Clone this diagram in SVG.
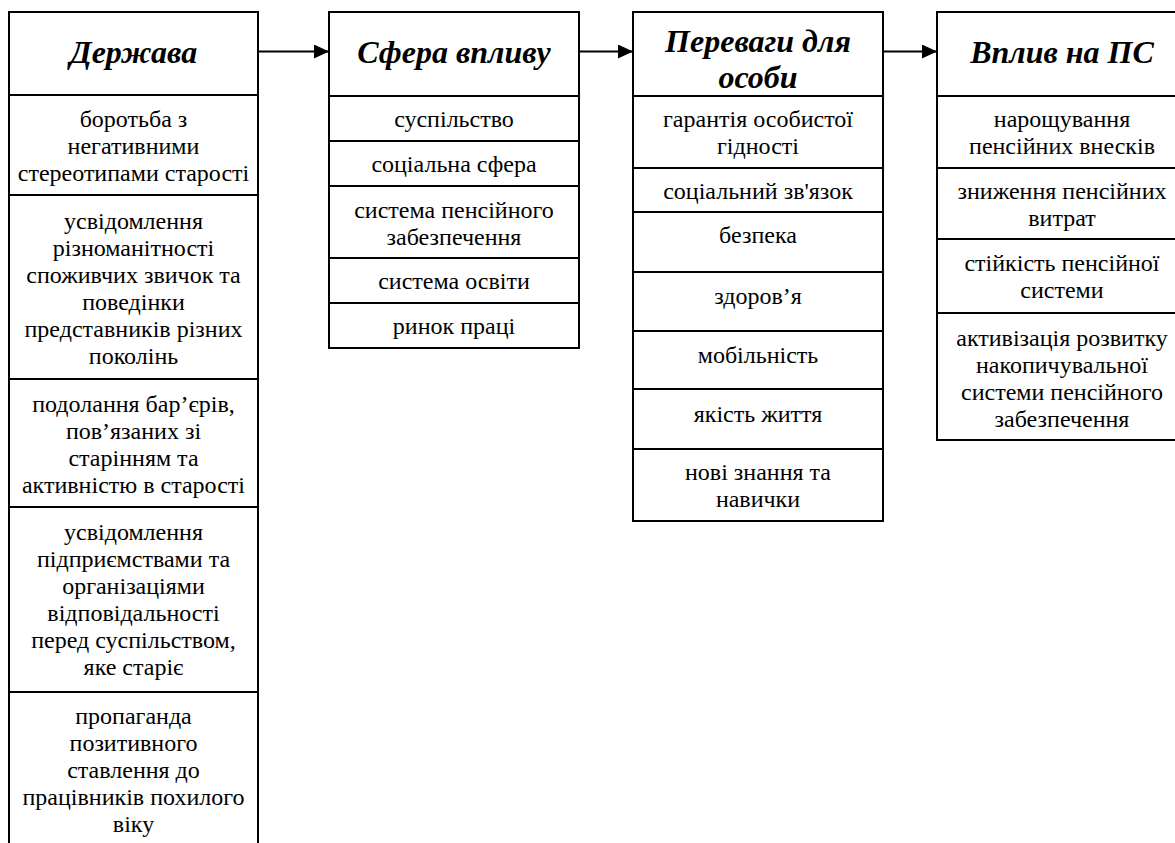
<svg xmlns="http://www.w3.org/2000/svg" width="1175" height="843" viewBox="0 0 1175 843">
<defs>
<style>
.box{fill:#fff;stroke:#000;stroke-width:2}
.div{stroke:#000;stroke-width:2}
.h{font-family:"Liberation Serif","Times New Roman",serif;font-size:32px;font-weight:bold;font-style:italic;text-anchor:middle;fill:#000}
.t{font-family:"Liberation Serif","Times New Roman",serif;font-size:24px;text-anchor:middle;fill:#000}
.c{stroke:#000;stroke-width:2;fill:none}
</style>
<marker id="ah" markerUnits="userSpaceOnUse" markerWidth="16" markerHeight="14" refX="15" refY="7" orient="auto">
<path d="M0,0 L15,7 L0,14 z" fill="#000"/>
</marker>
</defs>
<rect width="1175" height="843" fill="#fff"/>

<g id="derzhava">
<rect class="box" x="9" y="12" width="249" height="860"/>
<line class="div" x1="9" y1="95" x2="258" y2="95"/>
<line class="div" x1="9" y1="195" x2="258" y2="195"/>
<line class="div" x1="9" y1="379" x2="258" y2="379"/>
<line class="div" x1="9" y1="507" x2="258" y2="507"/>
<line class="div" x1="9" y1="692" x2="258" y2="692"/>
<text class="h" x="133.5" y="63">Держава</text>
<text class="t" x="133.5" y="127">боротьба з</text>
<text class="t" x="133.5" y="154">негативними</text>
<text class="t" x="133.5" y="181">стереотипами старості</text>
<text class="t" x="133.5" y="229">усвідомлення</text>
<text class="t" x="133.5" y="256">різноманітності</text>
<text class="t" x="133.5" y="283">споживчих звичок та</text>
<text class="t" x="133.5" y="310">поведінки</text>
<text class="t" x="133.5" y="337">представників різних</text>
<text class="t" x="133.5" y="364">поколінь</text>
<text class="t" x="133.5" y="412">подолання бар’єрів,</text>
<text class="t" x="133.5" y="439">пов’язаних зі</text>
<text class="t" x="133.5" y="466">старінням та</text>
<text class="t" x="133.5" y="493">активністю в старості</text>
<text class="t" x="133.5" y="540">усвідомлення</text>
<text class="t" x="133.5" y="567">підприємствами та</text>
<text class="t" x="133.5" y="594">організаціями</text>
<text class="t" x="133.5" y="621">відповідальності</text>
<text class="t" x="133.5" y="648">перед суспільством,</text>
<text class="t" x="133.5" y="675">яке старіє</text>
<text class="t" x="133.5" y="724">пропаганда</text>
<text class="t" x="133.5" y="751">позитивного</text>
<text class="t" x="133.5" y="778">ставлення до</text>
<text class="t" x="133.5" y="805">працівників похилого</text>
<text class="t" x="133.5" y="832">віку</text>
</g>

<g id="sfera">
<rect class="box" x="329" y="12" width="250" height="336"/>
<line class="div" x1="329" y1="96" x2="579" y2="96"/>
<line class="div" x1="329" y1="141" x2="579" y2="141"/>
<line class="div" x1="329" y1="186" x2="579" y2="186"/>
<line class="div" x1="329" y1="258" x2="579" y2="258"/>
<line class="div" x1="329" y1="303" x2="579" y2="303"/>
<text class="h" x="454" y="63">Сфера впливу</text>
<text class="t" x="454" y="127">суспільство</text>
<text class="t" x="454" y="172">соціальна сфера</text>
<text class="t" x="454" y="218">система пенсійного</text>
<text class="t" x="454" y="245">забезпечення</text>
<text class="t" x="454" y="289">система освіти</text>
<text class="t" x="454" y="334">ринок праці</text>
</g>

<g id="perevagy">
<rect class="box" x="633" y="12" width="250" height="509"/>
<line class="div" x1="633" y1="96" x2="883" y2="96"/>
<line class="div" x1="633" y1="168" x2="883" y2="168"/>
<line class="div" x1="633" y1="212" x2="883" y2="212"/>
<line class="div" x1="633" y1="272" x2="883" y2="272"/>
<line class="div" x1="633" y1="331" x2="883" y2="331"/>
<line class="div" x1="633" y1="389" x2="883" y2="389"/>
<line class="div" x1="633" y1="449" x2="883" y2="449"/>
<text class="h" x="758" y="52">Переваги для</text>
<text class="h" x="758" y="88">особи</text>
<text class="t" x="758" y="127">гарантія особистої</text>
<text class="t" x="758" y="154">гідності</text>
<text class="t" x="758" y="199">соціальний зв'язок</text>
<text class="t" x="758" y="243">безпека</text>
<text class="t" x="758" y="304">здоров’я</text>
<text class="t" x="758" y="363">мобільність</text>
<text class="t" x="758" y="422">якість життя</text>
<text class="t" x="758" y="480">нові знання та</text>
<text class="t" x="758" y="507">навички</text>
</g>

<g id="vplyv">
<rect class="box" x="937" y="12" width="250" height="428"/>
<line class="div" x1="937" y1="96" x2="1187" y2="96"/>
<line class="div" x1="937" y1="168" x2="1187" y2="168"/>
<line class="div" x1="937" y1="239" x2="1187" y2="239"/>
<line class="div" x1="937" y1="313" x2="1187" y2="313"/>
<text class="h" x="1062" y="63">Вплив на ПС</text>
<text class="t" x="1062" y="127">нарощування</text>
<text class="t" x="1062" y="154">пенсійних внесків</text>
<text class="t" x="1062" y="199">зниження пенсійних</text>
<text class="t" x="1062" y="226">витрат</text>
<text class="t" x="1062" y="271">стійкість пенсійної</text>
<text class="t" x="1062" y="298">системи</text>
<text class="t" x="1062" y="346">активізація розвитку</text>
<text class="t" x="1062" y="373">накопичувальної</text>
<text class="t" x="1062" y="400">системи пенсійного</text>
<text class="t" x="1062" y="427">забезпечення</text>
</g>

<g id="connectors">
<line class="c" x1="258" y1="51.5" x2="329" y2="51.5" marker-end="url(#ah)"/>
<line class="c" x1="579" y1="51.5" x2="633" y2="51.5" marker-end="url(#ah)"/>
<line class="c" x1="883" y1="51.5" x2="937" y2="51.5" marker-end="url(#ah)"/>
</g>
</svg>
